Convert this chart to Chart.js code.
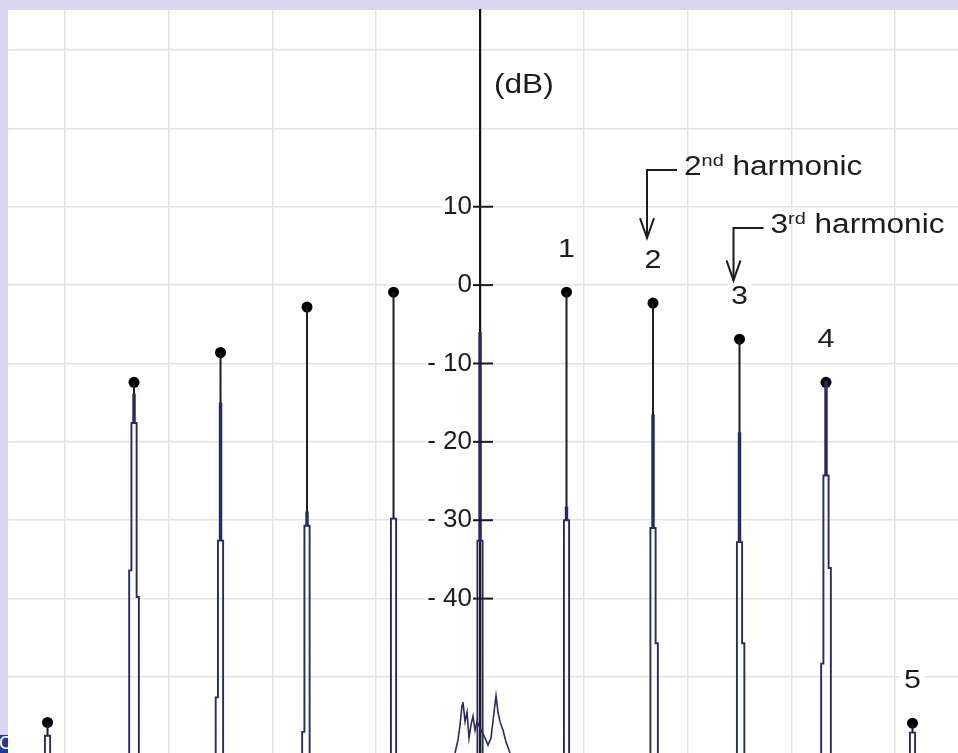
<!DOCTYPE html>
<html>
<head>
<meta charset="utf-8">
<script src="https://cdn.jsdelivr.net/npm/chart.js@4.4.1/dist/chart.umd.min.js"></script>
<style>
html,body{margin:0;padding:0;width:958px;height:753px;overflow:hidden;background:#dad6f2;}
#wrap{position:absolute;left:0;top:0;width:958px;height:753px;}
#corner{position:absolute;left:0;top:735px;width:8px;height:18px;background:#22399a;overflow:hidden;}
#corner span{position:absolute;left:-1px;top:-2px;color:#fff;font:18px "Liberation Sans",Arial,sans-serif;}
</style>
</head>
<body>
<div id="wrap"><canvas id="c"></canvas></div>
<div id="corner"><span>C</span></div>
<script>
// ---- data ----
const peakIndex        = [-5, -4, -3, -2, -1, 0, 1, 2, 3, 4, 5];
const peakDotDb        = [-55.8, -12.4, -8.6, -2.8, -0.9, null, -0.9, -2.3, -6.9, -12.4, -55.9];
const spikeTopDb       = [-57.5, -14.0, -15.1, -29.0, -29.8, -6.1, -28.4, -16.6, -18.9, -12.4, -57.1];
const spikeSplitDb     = [-57.5, -17.6, -32.6, -30.7, -29.8, -32.6, -30.0, -31.0, -32.8, -24.3, -57.1];
const spikeLeftStepDb  = [-61, -36.4, -52.6, -57.0, -61, -61, -61, -61, -61, -48.3, -61];
const spikeRightStepDb = [-61, -39.8, -61, -61, -61, -61, -61, -45.7, -45.7, -36.1, -61];
const peakLabels       = ['', '', '', '', '', '', '1', '2', '3', '4', '5'];
const noiseFreq = [-0.289, -0.254, -0.231, -0.208, -0.197, -0.173, -0.150, -0.127, -0.104, -0.081, -0.058, -0.035,
                   0.058, 0.092, 0.127, 0.162, 0.185, 0.208, 0.231, 0.266, 0.301, 0.347];
const noiseDb   = [-59.7, -58.0, -56.1, -53.6, -53.2, -55.7, -54.5, -57.8, -56.1, -55.0, -56.8, -55.7,
                   -57.8, -58.7, -57.8, -54.5, -52.4, -54.5, -55.7, -56.8, -58.3, -59.7];
const yTickValues = [30, 20, 10, 0, -10, -20, -30, -40, -50];
const yTickLabels = ['', '', '10', '0', '- 10', '- 20', '- 30', '- 40', ''];
const xGridValues = [-4.8, -3.6, -2.4, -1.2, 0, 1.2, 2.4, 3.6, 4.8];
const harmonicPeaks   = [2, 3];
const harmonicOrdinal = ['2', '3'];
const harmonicSuffix  = ['nd', 'rd'];
const harmonicWord    = 'harmonic';
const unitLabel = '(dB)';

const xRange = [-5.457, 5.526];
const yRange = [-59.7, 35.1];
const floorDb = -61;

// ---- build datasets from the arrays ----
const W = {inner: 0.009, mid: 0.03, outer: 0.056};
const tracePts = [];
peakIndex.forEach((k, i) => {
  const T = spikeTopDb[i], S = spikeSplitDb[i], L = spikeLeftStepDb[i], R = spikeRightStepDb[i];
  tracePts.push(
    {x: k - W.outer, y: floorDb}, {x: k - W.outer, y: L}, {x: k - W.mid, y: L}, {x: k - W.mid, y: S},
    {x: k - W.inner, y: S}, {x: k - W.inner, y: T}, {x: k + W.inner, y: T}, {x: k + W.inner, y: S},
    {x: k + W.mid, y: S}, {x: k + W.mid, y: R}, {x: k + W.outer, y: R}, {x: k + W.outer, y: floorDb}
  );
});
const stemPts = [];
const dotPts = [];
peakIndex.forEach((k, i) => {
  if (peakDotDb[i] === null) {
    stemPts.push({x: k, y: spikeTopDb[i]}, {x: k, y: floorDb}, {x: k, y: null});
    return;
  }
  stemPts.push({x: k, y: peakDotDb[i]}, {x: k, y: spikeTopDb[i]}, {x: k, y: null});
  dotPts.push({x: k, y: peakDotDb[i]});
});
const noisePts = noiseFreq.map((f, i) => ({x: f, y: noiseDb[i]}));

const FONT = '"Liberation Sans", Arial, sans-serif';
const INK = '#1c1c1c';
const NAVY = '#282b62';

function stretchText(ctx, txt, x, y, size, align, sx) {
  ctx.save();
  ctx.translate(x, y);
  ctx.scale(sx, 1);
  ctx.font = size + 'px ' + FONT;
  ctx.textBaseline = 'middle';
  ctx.textAlign = align;
  ctx.fillText(txt, 0, 0);
  const w = ctx.measureText(txt).width * sx;
  ctx.restore();
  return w;
}

const overlay = {
  id: 'overlay',
  beforeDraw(chart) {
    const {ctx, chartArea: a} = chart;
    ctx.save();
    ctx.fillStyle = '#ffffff';
    ctx.fillRect(a.left, a.top, a.right - a.left, a.bottom - a.top);
    ctx.restore();
  },
  afterDatasetsDraw(chart) {
    const {ctx, scales: {x: xs, y: ys}} = chart;
    const ax = xs.getPixelForValue(0);
    const SX = 1.17;
    ctx.save();
    // tick marks crossing the axis
    ctx.strokeStyle = INK; ctx.lineWidth = 2;
    yTickValues.forEach((v, i) => {
      if (!yTickLabels[i]) return;
      const py = ys.getPixelForValue(v);
      ctx.beginPath(); ctx.moveTo(ax - 7, py); ctx.lineTo(ax + 13, py); ctx.stroke();
    });
    ctx.fillStyle = INK;
    // unit label
    stretchText(ctx, unitLabel, ax + 14, ys.getPixelForValue(25.4), 27, 'left', SX);
    // peak numbers
    peakIndex.forEach((k, i) => {
      if (!peakLabels[i]) return;
      const px = xs.getPixelForValue(k), py = ys.getPixelForValue(peakDotDb[i]) - 42;
      ctx.fillStyle = '#fff';
      ctx.fillRect(px - 12, py - 16, 24, 32);
      ctx.fillStyle = INK;
      stretchText(ctx, peakLabels[i], px, py, 26, 'center', SX);
    });
    // harmonic annotations
    const bracketDb = [14.7, 7.3], tipDb = [6.0, 0.6];
    harmonicPeaks.forEach((p, i) => {
      const x0 = xs.getPixelForValue(p) - 6;
      const yb = ys.getPixelForValue(bracketDb[i]);
      const yt = ys.getPixelForValue(tipDb[i]);
      ctx.strokeStyle = INK; ctx.lineWidth = 2;
      ctx.beginPath(); ctx.moveTo(x0 + 30, yb); ctx.lineTo(x0, yb); ctx.lineTo(x0, yt); ctx.stroke();
      ctx.beginPath(); ctx.moveTo(x0 - 7, yt - 20); ctx.lineTo(x0, yt); ctx.lineTo(x0 + 7, yt - 20); ctx.stroke();
      ctx.fillStyle = INK;
      let tx = x0 + 37;
      const ty = yb - 2;
      tx += stretchText(ctx, harmonicOrdinal[i], tx, ty, 27, 'left', SX);
      tx += stretchText(ctx, harmonicSuffix[i], tx, ty - 7, 17, 'left', SX);
      stretchText(ctx, ' ' + harmonicWord, tx, ty, 27, 'left', SX);
    });
    ctx.restore();
  }
};

const yCommon = {
  type: 'linear', min: yRange[0], max: yRange[1],
  afterBuildTicks: s => { s.ticks = yTickValues.map(v => ({value: v})); },
  afterFit: s => { s.paddingTop = 0; s.paddingBottom = 0; }
};

new Chart(document.getElementById('c'), {
  type: 'scatter',
  data: {
    datasets: [
      {label: 'trace', data: tracePts, showLine: true, borderColor: NAVY, borderWidth: 1.9, pointRadius: 0, tension: 0},
      {label: 'noise', data: noisePts, showLine: true, borderColor: NAVY, borderWidth: 1.6, pointRadius: 0, tension: 0},
      {label: 'stems', data: stemPts, showLine: true, spanGaps: false, borderColor: '#1e1e1e', borderWidth: 2, pointRadius: 0},
      {label: 'peaks', data: dotPts, showLine: false, pointRadius: 5.5, pointBackgroundColor: '#000', pointBorderWidth: 0}
    ]
  },
  options: {
    responsive: true,
    maintainAspectRatio: false,
    animation: false,
    layout: {autoPadding: false, padding: {left: 8, top: 10, right: 0, bottom: 0}},
    plugins: {legend: {display: false}, tooltip: {enabled: false}},
    scales: {
      x: {
        type: 'linear', min: xRange[0], max: xRange[1],
        afterBuildTicks: s => { s.ticks = xGridValues.map(v => ({value: v})); },
        ticks: {display: false},
        border: {display: false},
        grid: {color: '#e3e3e3', lineWidth: 1.5, drawTicks: false}
      },
      y: Object.assign({}, yCommon, {
        position: {x: 0},
        ticks: {display: false},
        border: {display: true, color: '#111', width: 2.2},
        grid: {color: '#e3e3e3', lineWidth: 1.5, drawTicks: false}
      }),
      yLabels: Object.assign({}, yCommon, {
        position: {x: -0.0925},
        ticks: {
          callback: (v, i) => yTickLabels[i],
          font: {family: FONT, size: 26},
          color: INK,
          padding: 0,
          showLabelBackdrop: true,
          backdropColor: c => (yTickLabels[c.index] ? '#ffffff' : 'rgba(0,0,0,0)'),
          backdropPadding: 2
        },
        border: {display: false},
        grid: {display: false, drawTicks: false}
      })
    }
  },
  plugins: [overlay]
});
</script>
</body>
</html>
